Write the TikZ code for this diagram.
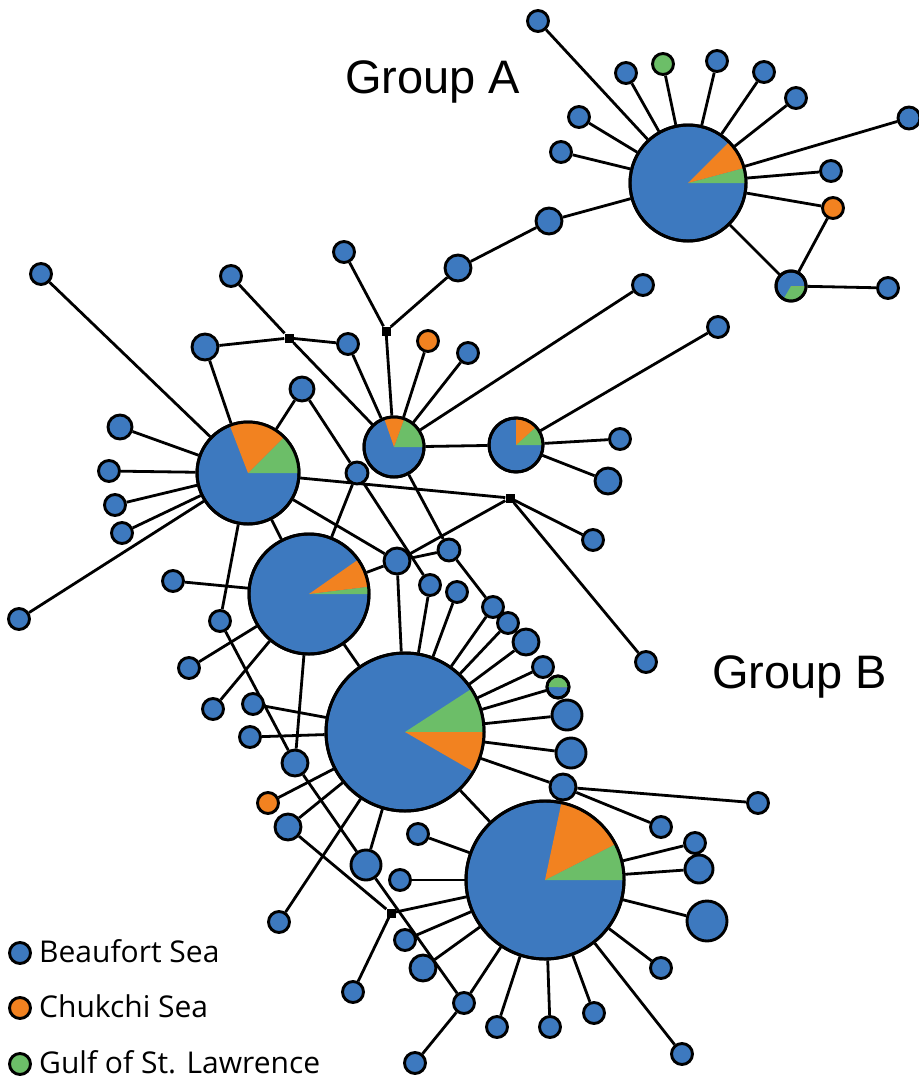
\documentclass[tikz,border=0pt]{standalone}
\usepackage{fontspec}
\setmainfont{Liberation Sans}
\newfontfamily\legfont{Open Sans}
\definecolor{bsea}{RGB}{61,121,191}
\definecolor{csea}{RGB}{242,130,32}
\definecolor{gsl}{RGB}{108,190,104}
\pgfdeclarelayer{background}
\pgfsetlayers{background,main}
\tikzset{
  hap/.style={circle,draw=black,line width=2.9pt,fill=bsea,inner sep=0pt,minimum size=#1},
  hap/.default=21pt,
  med/.style={rectangle,fill=black,inner sep=0pt,minimum size=9pt},
  edge/.style={line width=2.8pt,black},
  leg/.style={anchor=base west,inner sep=0pt,font=\legfont\fontsize{30}{32}\selectfont},
  grp/.style={anchor=base west,inner sep=0pt,font=\fontsize{47}{50}\selectfont}
}
\newcommand\hpie[6]{%
  \fill[gsl] (#1.center) -- ++(#3:#2) arc[start angle=#3,end angle=#4,radius=#2] -- cycle;
  \fill[csea] (#1.center) -- ++(#5:#2) arc[start angle=#5,end angle=#6,radius=#2] -- cycle;
  \draw[line width=3pt] (#1.center) circle[radius=#2];}
\begin{document}
\begin{tikzpicture}[x=1pt,y=1pt]
\useasboundingbox (0,0) rectangle (918,-1081);
% ---- Group A
\node[hap=116pt] (A) at (688,-183) {};
\node[hap] (a1) at (538,-21) {};
\node[hap] (a2) at (626,-73) {};
\node[hap,fill=gsl] (a3) at (663,-64) {};
\node[hap] (a4) at (717,-61) {};
\node[hap] (a5) at (764,-72) {};
\node[hap] (a6) at (796,-98) {};
\node[hap=22pt] (a7) at (909,-118) {};
\node[hap] (a8) at (831,-171) {};
\node[hap,fill=csea] (a9) at (833,-208) {};
\node[hap] (a10) at (579,-117) {};
\node[hap] (a11) at (561,-152) {};
\node[hap=26pt] (a12) at (549,-221) {};
\node[hap] (a13) at (888,-288) {};
\node[hap=30pt] (Am) at (791,-286) {};
\node[hap=26pt] (n1) at (458,-268) {};
\node[hap] (n2) at (344,-252) {};
\node[med] (J1) at (289,-338) {};
\node[med] (J2) at (386,-331) {};
\node[med] (J3) at (510,-498) {};
\node[med] (J4) at (391,-913) {};
% ---- hubs
\node[hap=102pt] (L) at (248,-473) {};
\node[hap=120pt] (M) at (309,-594) {};
\node[hap=158pt] (B) at (405,-732) {};
\node[hap=158pt] (C) at (545,-880) {};
\node[hap=60pt] (P1) at (394,-447) {};
\node[hap=54pt] (P2) at (516,-445) {};
% ---- upper middle
\node[hap] (t1) at (41,-274) {};
\node[hap] (t2) at (231,-276) {};
\node[hap=26pt] (t3) at (205,-347) {};
\node[hap] (t4) at (348,-344) {};
\node[hap,fill=csea] (t5) at (428,-341) {};
\node[hap] (t6) at (468,-353) {};
\node[hap] (t7) at (643,-285) {};
\node[hap] (t8) at (718,-327) {};
\node[hap] (t9) at (620,-439) {};
\node[hap=26pt] (t10) at (608,-481) {};
\node[hap=24pt] (t11) at (302,-389) {};
\node[hap=22pt] (t12) at (357,-473) {};
% ---- left of L
\node[hap=24pt] (l1) at (120,-427) {};
\node[hap] (l2) at (109,-471) {};
\node[hap] (l3) at (115,-505) {};
\node[hap] (l4) at (122,-533) {};
\node[hap] (l5) at (19,-619) {};
\node[hap] (l6) at (220,-621) {};
% ---- left of M
\node[hap] (m1) at (173,-581) {};
\node[hap] (m2) at (189,-668) {};
\node[hap] (m3) at (213,-709) {};
% ---- middle
\node[hap=26pt] (c1) at (397,-561) {};
\node[hap=22pt] (c2) at (449,-550) {};
\node[hap] (c3) at (593,-540) {};
\node[hap] (c4) at (646,-662) {};
% ---- right of B
\node[hap] (b1) at (430,-585) {};
\node[hap] (b2) at (457,-592) {};
\node[hap] (b3) at (493,-607) {};
\node[hap] (b4) at (508,-623) {};
\node[hap=26pt] (b5) at (526,-642) {};
\node[hap] (b6) at (543,-667) {};
\node[hap=22pt] (Bm) at (558,-687) {};
\node[hap=30pt] (b7) at (567,-715) {};
\node[hap=30pt] (b8) at (571,-753) {};
\node[hap=26pt] (b9) at (563,-787) {};
\node[hap] (b10) at (758,-803) {};
\node[hap] (b11) at (661,-827) {};
% ---- left of B
\node[hap] (d1) at (253,-704) {};
\node[hap] (d2) at (250,-737) {};
\node[hap=26pt] (d3) at (295,-763) {};
\node[hap,fill=csea] (d4) at (268,-803) {};
\node[hap=26pt] (d5) at (288,-827) {};
\node[hap] (d6) at (279,-922) {};
\node[hap=30pt] (d7) at (366,-865) {};
% ---- around C
\node[hap] (e1) at (418,-834) {};
\node[hap] (e2) at (400,-880) {};
\node[hap] (e3) at (405,-940) {};
\node[hap=26pt] (e4) at (423,-968) {};
\node[hap] (e5) at (464,-1003) {};
\node[hap] (e6) at (415,-1063) {};
\node[hap] (e7) at (353,-992) {};
\node[hap] (e8) at (497,-1027) {};
\node[hap] (e9) at (550,-1027) {};
\node[hap] (e10) at (594,-1013) {};
\node[hap] (e11) at (682,-1054) {};
\node[hap] (e12) at (661,-968) {};
\node[hap=40pt] (e13) at (707,-921) {};
\node[hap=28pt] (e14) at (699,-869) {};
\node[hap] (e15) at (695,-843) {};
% ---- edges
\begin{pgfonlayer}{background}
\foreach \u/\v in {A/a1,A/a2,A/a3,A/a4,A/a5,A/a6,A/a7,A/a8,A/a9,A/a10,A/a11,A/a12,A/Am,
  Am/a9,Am/a13,a12/n1,n1/J2,J2/n2,J2/P1,
  t2/J1,J1/P1,t3/J1,J1/t4,t4/P1,
  P1/t5,P1/t6,P1/t7,P1/P2,P1/c2,P2/t8,P2/t9,P2/t10,
  L/t1,L/t3,L/t11,L/l1,L/l2,L/l3,L/l4,L/l5,L/l6,L/M,L/J3,L/c1,
  t11/t12,t12/M,t12/b1,
  J3/c1,J3/c3,J3/c4,c1/M,c1/c2,c1/B,c2/b3,
  M/m1,M/m2,M/m3,M/d3,M/B,l6/d3,d3/d7,
  B/b1,B/b2,B/b3,B/b4,B/b5,B/b6,B/Bm,B/b7,B/b8,B/b9,B/C,
  B/d1,B/d2,B/d4,B/d5,B/d6,B/d7,
  b9/b10,b9/b11,d5/J4,J4/C,J4/e7,d7/e5,
  C/e1,C/e2,C/e3,C/e4,C/e5,C/e8,C/e9,C/e10,C/e11,C/e12,C/e13,C/e14,C/e15,
  e5/e6}
  \draw[edge] (\u) -- (\v);
\end{pgfonlayer}
% ---- pies
\hpie{A}{58}{0}{15}{15}{45}
\hpie{L}{51}{0}{45}{45}{111}
\hpie{M}{60}{0}{7}{7}{35}
\hpie{B}{79}{0}{33}{-30}{0}
\hpie{C}{79}{0}{27}{27}{78}
\hpie{P1}{30}{0}{70}{70}{109}
\hpie{P2}{27}{0}{42}{42}{90}
\hpie{Am}{15}{-120}{0}{0}{0}
\hpie{Bm}{11}{0}{180}{0}{0}
% ---- labels
\node[grp] (gA) at (345,-93) {Group A};
\node[grp] (gB) at (712,-688) {Group B};
% ---- legend
\node[hap] (k1) at (20,-953) {};
\node[hap,fill=csea] (k2) at (20,-1008) {};
\node[hap,fill=gsl] (k3) at (20,-1064) {};
\node[leg] (k1t) at (39,-962) {Beaufort Sea};
\node[leg] (k2t) at (39,-1017) {Chukchi Sea};
\node[leg] (k3t) at (39,-1073) {Gulf of St. Lawrence};
\end{tikzpicture}
\end{document}
